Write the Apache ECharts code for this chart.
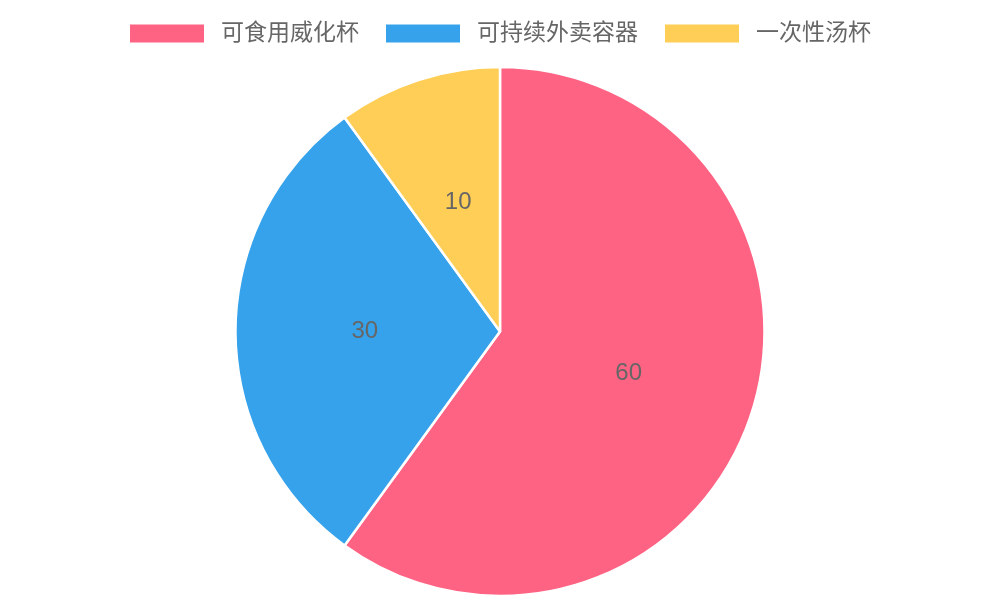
<!DOCTYPE html>
<html><head><meta charset="utf-8">
<script src="https://cdn.jsdelivr.net/npm/echarts@6/dist/echarts.min.js"></script>
<style>html,body{margin:0;padding:0;background:#fff}#c{width:1000px;height:600px}</style>
</head><body><div id="c"></div>
<script>
const categories = ['可食用威化杯', '可持续外卖容器', '一次性汤杯'];
const values = [60, 30, 10];
const colors = ['#FF6384', '#36A2EB', '#FFCE56'];
const font = '"Liberation Sans", Arial, "Noto Sans CJK SC", sans-serif';
const chart = echarts.init(document.getElementById('c'));
chart.setOption({
  animation: false,
  legend: {
    top: 17, left: 123,
    icon: 'rect', itemWidth: 76, itemHeight: 20, itemGap: 25,
    textStyle: { fontSize: 23, color: '#666', fontFamily: font, padding: [0,0,0,11] },
    data: categories
  },
  series: [{
    type: 'pie',
    center: [500, 331.5],
    radius: 264.5,
    startAngle: 90,
    clockwise: true,
    color: colors,
    itemStyle: { borderColor: '#fff', borderWidth: 2.5 },
    label: { show: true, position: 'inside', formatter: '{c}', fontSize: 24, color: '#666', fontFamily: font },
    labelLine: { show: false },
    emphasis: { scale: false },
    data: categories.map((n, i) => ({ name: n, value: values[i] }))
  }]
});
</script></body></html>
